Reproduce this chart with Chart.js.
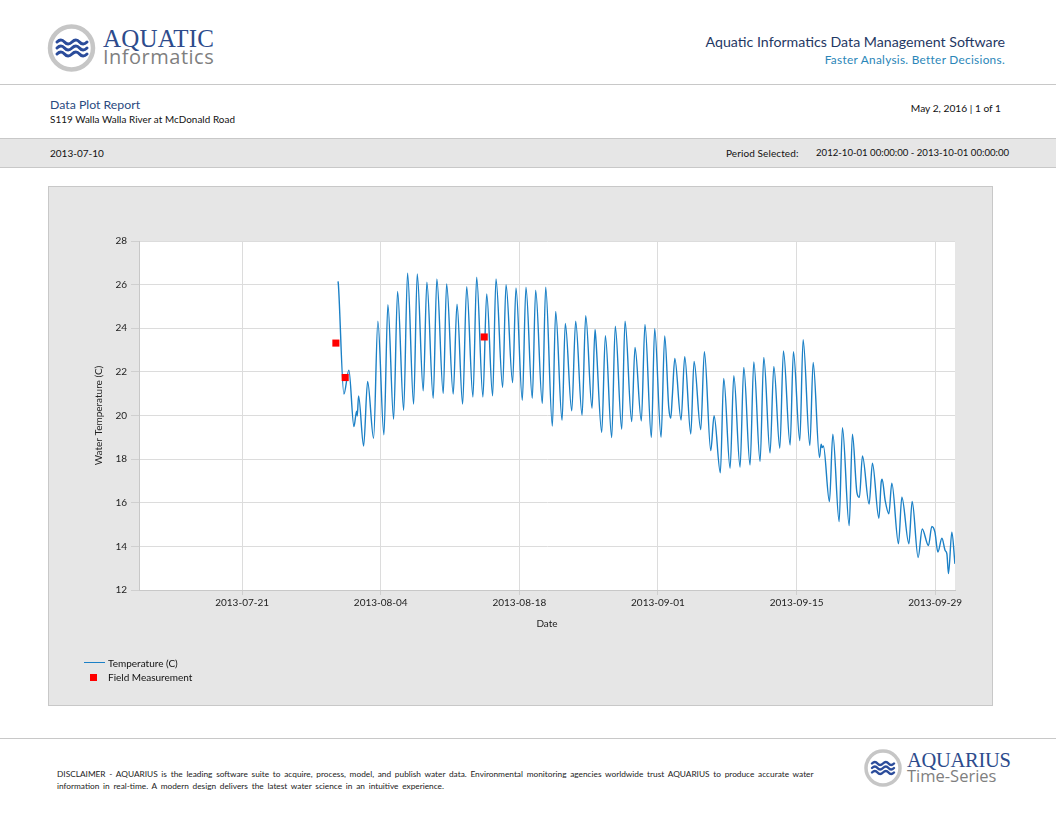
<!DOCTYPE html>
<html><head><meta charset="utf-8">
<script src="https://cdn.jsdelivr.net/npm/chart.js@4.4.1/dist/chart.umd.min.js"></script>
<style>
html,body{margin:0;padding:0;background:#fff;}
body{width:1056px;height:816px;position:relative;overflow:hidden;font-family:Lato,"Open Sans",sans-serif;color:#222;}
.abs{position:absolute;white-space:nowrap;line-height:1;}
.hline{position:absolute;left:0;width:1056px;height:0;border-top:1px solid #c8c8c8;}
#panel{position:absolute;left:48px;top:186px;width:945px;height:520px;box-sizing:border-box;border:1px solid #c8c8c8;background:#e6e6e6;}
#chartWrap{position:absolute;left:0;top:0;width:943px;height:518px;}
</style></head>
<body>
<!-- header logo -->
<svg class="abs" style="left:40px;top:16px" width="70" height="64" viewBox="40 16 70 64">
  <circle cx="71.5" cy="48" r="21.5" fill="#fff" stroke="#c6c6c6" stroke-width="4.5"/>
  <g fill="none" stroke="#2b4c9b" stroke-width="3" stroke-linecap="round">
    <path d="M57 42 q4 -4 7.5 0 t7.5 0 t7.5 0 t7.5 0"/>
    <path d="M57 48 q4 -4 7.5 0 t7.5 0 t7.5 0 t7.5 0"/>
    <path d="M57 54 q4 -4 7.5 0 t7.5 0 t7.5 0 t7.5 0"/>
  </g>
</svg>
<div class="abs" style="left:103px;top:26px;font-family:'Liberation Serif',serif;font-size:25px;color:#2d4b8c;letter-spacing:0.2px">AQUATIC</div>
<div class="abs" style="left:103px;top:47px;font-family:'Open Sans',sans-serif;font-size:20px;color:#7f7f7f;letter-spacing:0.5px">Informatics</div>

<div class="abs" style="right:51px;top:35px;font-size:14.2px;font-weight:400;color:#1f3864">Aquatic Informatics Data Management Software</div>
<div class="abs" style="right:51px;top:54px;font-size:11.8px;color:#2a86b8;letter-spacing:0.3px">Faster Analysis. Better Decisions.</div>

<div class="hline" style="top:84px"></div>

<div class="abs" style="left:50px;top:99px;font-size:12.3px;color:#2a4a7f">Data Plot Report</div>
<div class="abs" style="left:50px;top:115px;font-size:9.9px;color:#111;letter-spacing:0.05px">S119 Walla Walla River at McDonald Road</div>
<div class="abs" style="right:55px;top:103px;font-size:10.2px;color:#111">May 2, 2016 | 1 of 1</div>

<div class="abs" style="left:0;top:138px;width:1056px;height:30px;background:#e6e6e6;border-top:1px solid #c8c8c8;border-bottom:1px solid #c8c8c8;box-sizing:border-box"></div>
<div class="abs" style="left:50px;top:148px;font-size:10px;color:#111">2013-07-10</div>
<div class="abs" style="left:726px;top:148px;font-size:10px;color:#111;letter-spacing:0.1px">Period Selected:</div>
<div class="abs" style="left:816px;top:148px;font-size:9.6px;color:#111">2012-10-01 00:00:00 - 2013-10-01 00:00:00</div>

<div id="panel"><div id="chartWrap"><canvas id="c"></canvas></div></div>

<!-- legend -->
<div class="abs" style="left:84px;top:662px;width:21px;height:0;border-top:1.5px solid #1b80c6"></div>
<div class="abs" style="left:108px;top:658px;font-size:10px;color:#111">Temperature (C)</div>
<div class="abs" style="left:90px;top:674px;width:7px;height:7px;background:#ff0000"></div>
<div class="abs" style="left:108px;top:672px;font-size:10px;color:#111">Field Measurement</div>

<div class="hline" style="top:738px"></div>
<div class="abs" style="left:57px;top:770px;font-size:8.3px;color:#222;word-spacing:1.6px">DISCLAIMER - AQUARIUS is the leading software suite to acquire, process, model, and publish water data. Environmental monitoring agencies worldwide trust AQUARIUS to produce accurate water</div>
<div class="abs" style="left:57px;top:782px;font-size:8.3px;color:#222;word-spacing:1.6px">information in real-time. A modern design delivers the latest water science in an intuitive experience.</div>

<svg class="abs" style="left:860px;top:745px" width="46" height="46" viewBox="860 745 46 46">
  <circle cx="883" cy="768" r="17" fill="#fff" stroke="#c6c6c6" stroke-width="3.5"/>
  <g fill="none" stroke="#2b4c9b" stroke-width="2.4" stroke-linecap="round">
    <path d="M872 763.5 q3 -3 5.5 0 t5.5 0 t5.5 0 t5.5 0"/>
    <path d="M872 768 q3 -3 5.5 0 t5.5 0 t5.5 0 t5.5 0"/>
    <path d="M872 772.5 q3 -3 5.5 0 t5.5 0 t5.5 0 t5.5 0"/>
  </g>
</svg>
<div class="abs" style="left:907px;top:750px;font-family:'Liberation Serif',serif;font-size:20.5px;color:#2d4b8c;letter-spacing:-0.3px">AQUARIUS</div>
<div class="abs" style="left:907px;top:768px;font-family:'Open Sans',sans-serif;font-size:16.5px;color:#7f7f7f">Time-Series</div>

<script>
// ---- data ----
const tempTimes = [
'07-30 16:30','07-30 17:30','07-31 06:40','07-31 18:45','08-01 07:00','08-01 13:30','08-01 15:00','08-01 18:15',
'08-02 06:30','08-02 16:10','08-03 06:40','08-03 17:00','08-04 07:40','08-04 17:20','08-05 07:10','08-05 16:50',
'08-06 07:30','08-06 17:00','08-07 07:40','08-07 16:30','08-08 07:00','08-08 15:50','08-09 07:10','08-09 16:00',
'08-10 07:30','08-10 15:40','08-11 07:40','08-11 16:50','08-12 06:30','08-12 16:20','08-13 07:30','08-13 16:30',
'08-14 07:40','08-14 16:50','08-15 07:10','08-15 15:20','08-16 07:30','08-16 15:40','08-17 07:40','08-17 15:50',
'08-18 07:10','08-18 16:00','08-19 07:20','08-19 15:30','08-20 07:40','08-20 15:50','08-21 08:00','08-21 16:00',
'08-22 07:30','08-22 15:20','08-23 07:00','08-23 16:30','08-24 08:00','08-24 16:50','08-25 08:10','08-25 15:20',
'08-25 17:45','08-26 07:40','08-26 16:30','08-27 07:50','08-27 16:30','08-28 08:10','08-28 16:10','08-29 08:20',
'08-29 16:20','08-30 07:40','08-30 16:30','08-31 08:00','08-31 16:00','09-01 07:30','09-01 16:20','09-02 02:10',
'09-02 07:00','09-02 10:50','09-02 16:50','09-03 08:00','09-03 16:50','09-04 07:30','09-04 15:30','09-05 07:40',
'09-05 16:30','09-06 08:00','09-06 16:00','09-07 07:10','09-07 15:20','09-08 06:50','09-08 15:50','09-09 07:00',
'09-09 16:00','09-10 07:10','09-10 16:20','09-11 07:30','09-11 16:30','09-12 07:40','09-12 16:50','09-13 07:20',
'09-13 16:10','09-14 08:20','09-14 16:20','09-15 07:50','09-15 15:50','09-16 08:10','09-16 16:10','09-17 07:30',
'09-17 11:30','09-17 14:00','09-17 17:00','09-18 07:40','09-18 15:50','09-19 07:10','09-19 15:10','09-20 07:30',
'09-20 15:20','09-21 02:10','09-21 08:20','09-21 15:40','09-22 07:50','09-22 15:50','09-23 07:30','09-23 13:00',
'09-23 15:20','09-23 22:50','09-24 07:40','09-24 14:50','09-25 07:00','09-25 15:10','09-26 08:10','09-26 16:10',
'09-27 06:40','09-27 16:30','09-28 07:40','09-28 15:50','09-28 23:20','09-29 06:30','09-29 16:20','09-30 00:10',
'09-30 04:20','09-30 08:10','09-30 16:20','09-30 23:50'
];
const tempValues = [
26.15,25.95,20.98,22.08,19.49,20.20,19.98,20.90,
18.60,21.56,18.96,24.32,19.11,25.08,19.83,25.69,
20.24,26.52,20.52,26.49,21.13,26.11,20.79,26.26,
21.01,26.03,20.98,25.10,20.52,25.90,20.85,26.34,
20.85,25.57,20.90,26.26,21.28,26.00,21.51,25.85,
20.70,25.88,20.79,25.75,20.55,25.88,19.52,24.77,
19.78,24.22,20.21,24.32,20.01,24.58,20.33,23.95,
23.43,19.22,23.66,18.99,24.09,19.37,24.32,19.72,
23.12,19.75,24.17,18.99,23.98,19.00,23.65,20.37,
19.87,20.90,22.61,19.79,22.70,19.15,22.48,19.35,
22.93,18.39,19.99,17.37,21.70,17.58,21.82,17.63,
22.20,17.73,22.46,17.89,22.66,18.28,22.25,18.50,
22.96,18.65,22.92,18.85,23.47,18.62,22.43,18.07,
18.68,18.53,18.60,16.05,19.14,15.14,19.44,14.95,
19.14,16.48,16.25,18.15,15.94,17.81,15.29,16.93,
17.08,16.09,15.49,16.90,14.12,16.25,14.12,16.06,
13.49,14.80,14.04,14.91,14.65,13.74,14.37,13.81,
13.66,12.75,14.65,13.20
];
const fieldTimes = ['07-30 11:15','07-31 09:50','08-14 10:50'];
const fieldValues = [23.32, 21.74, 23.60];
const xTickDates = ['2013-07-21','2013-08-04','2013-08-18','2013-09-01','2013-09-15','2013-09-29'];
const xRange = ['2013-07-10 14:00','2013-10-01 00:00'];
const yRange = [12, 28];
const yStep = 2;

// ---- helpers ----
function parseMD(s){ // 'MM-DD HH:MM' in 2013
  const [md, hm] = s.split(' ');
  const [m, d] = md.split('-').map(Number);
  const [h, mi] = hm.split(':').map(Number);
  return Date.UTC(2013, m-1, d, h, mi);
}
function parseFull(s){
  const [ymd, hm] = s.split(' ');
  const [y, m, d] = ymd.split('-').map(Number);
  let h=0, mi=0;
  if (hm) [h, mi] = hm.split(':').map(Number);
  return Date.UTC(y, m-1, d, h, mi);
}
function fmt(v){
  const d = new Date(v);
  const p = n => String(n).padStart(2,'0');
  return d.getUTCFullYear()+'-'+p(d.getUTCMonth()+1)+'-'+p(d.getUTCDate());
}

const tempData = tempTimes.map((t,i)=>({x:parseMD(t), y:tempValues[i]}));
const fieldData = fieldTimes.map((t,i)=>({x:parseMD(t), y:fieldValues[i]}));
const tickVals = xTickDates.map(parseFull);

const plotBg = {
  id:'plotBg',
  beforeDraw(chart){
    const {ctx, chartArea:a} = chart;
    ctx.save(); ctx.fillStyle='#ffffff';
    ctx.fillRect(a.left, a.top, a.right-a.left, a.bottom-a.top);
    ctx.restore();
  }
};

const font = {family:'Lato, "Open Sans", sans-serif', size:10};

new Chart(document.getElementById('c'), {
  type:'line',
  data:{datasets:[
    {label:'Field Measurement', data:fieldData, showLine:false, pointStyle:'rect',
     pointRadius:5, pointHoverRadius:5, backgroundColor:'#ff0000', borderColor:'#ff0000', borderWidth:0, order:0},
    {label:'Temperature (C)', data:tempData, borderColor:'#1b80c6', borderWidth:1.4,
     pointRadius:0, fill:false, cubicInterpolationMode:'monotone', order:1}
  ]},
  options:{
    responsive:true, maintainAspectRatio:false, animation:false,
    layout:{padding:{left:44, top:54, right:37, bottom:75}},
    plugins:{legend:{display:false}, tooltip:{enabled:false}},
    scales:{
      x:{type:'linear', min:parseFull(xRange[0]), max:parseFull(xRange[1]),
         afterBuildTicks(s){ s.ticks = tickVals.map(v=>({value:v})); },
         afterFit(s){ s.height = 40; },
         ticks:{callback:v=>fmt(v), font, color:'#222', maxRotation:0, autoSkip:false, padding:2},
         grid:{color:'#dcdcdc', tickLength:5, tickColor:'#cfcfcf'},
         border:{color:'#c8c8c8'},
         title:{display:true, text:'Date', font, color:'#222', padding:0}
      },
      y:{min:yRange[0], max:yRange[1],
         afterBuildTicks(s){ const t=[]; for(let v=yRange[0]; v<=yRange[1]; v+=yStep) t.push({value:v}); s.ticks=t; },
         afterFit(s){ s.width = 46; },
         ticks:{font, color:'#222', padding:4},
         grid:{color:'#dcdcdc', tickLength:8, tickColor:'#cfcfcf'},
         border:{color:'#c8c8c8'},
         title:{display:true, text:'Water Temperature (C)', font, color:'#222', padding:0}
      }
    }
  },
  plugins:[plotBg]
});
</script>
</body></html>
